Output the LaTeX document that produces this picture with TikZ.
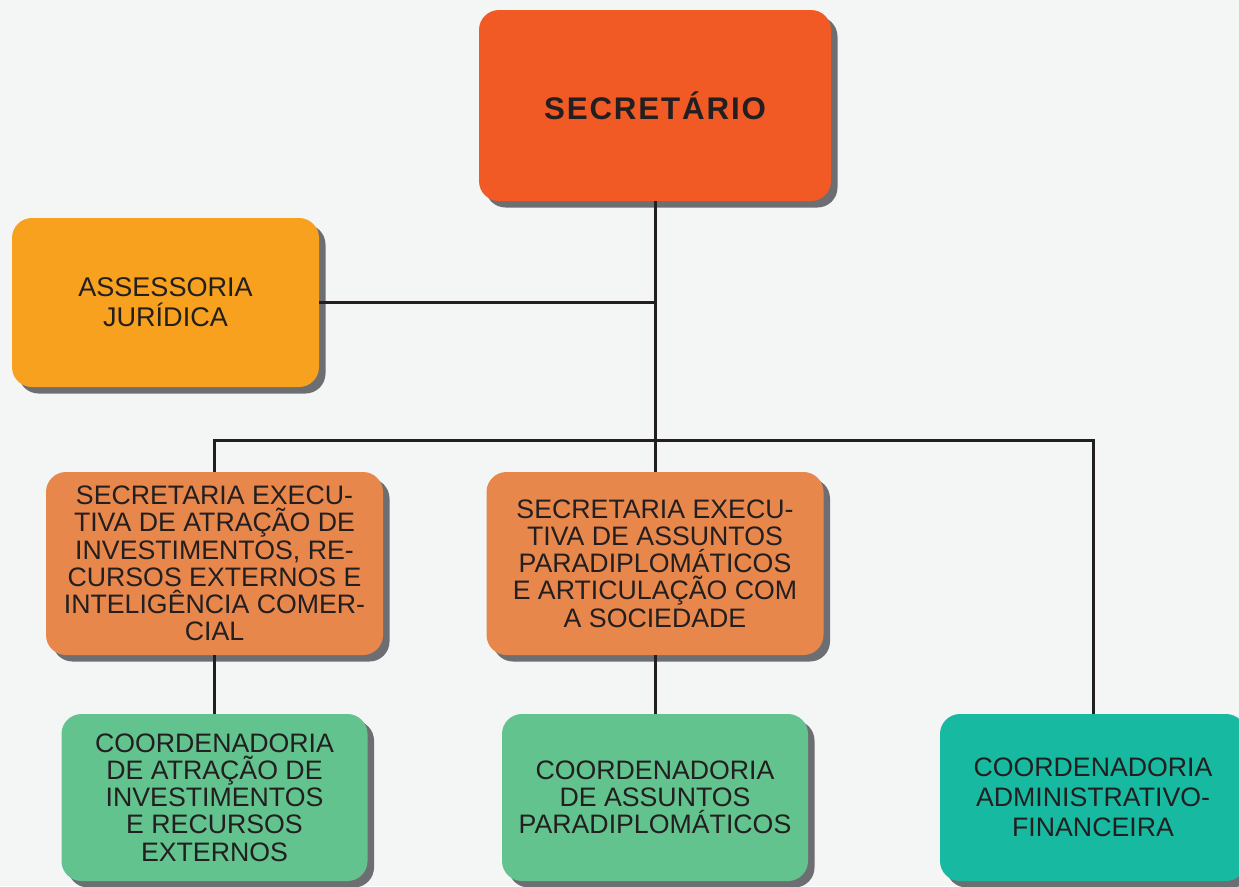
\documentclass[tikz,border=0pt]{standalone}
\usepackage{fontspec}
\setmainfont{Liberation Sans}
\usetikzlibrary{shadows}

\definecolor{bgcol}{HTML}{F4F6F6}
\definecolor{secorange}{HTML}{F15A24}
\definecolor{assyellow}{HTML}{F7A11E}
\definecolor{exorange}{HTML}{E8874C}
\definecolor{coogreen}{HTML}{63C38E}
\definecolor{cooteal}{HTML}{17BAA1}
\definecolor{shadowgray}{HTML}{6D6E71}
\definecolor{inkcol}{HTML}{231F20}

\begin{document}
\begin{tikzpicture}
            [color=inkcol, line width=1.7pt, line cap=rect,
             box/.style={shape=rectangle, rounded corners=0.4cm, align=center, inner sep=0pt,
                         font=\fontsize{15.2}{15.5}\selectfont,
                         general shadow={fill=shadowgray, shadow xshift=0.13cm, shadow yshift=-0.13cm}}]
            \path[use as bounding box, fill=bgcol] (0, 0) rectangle (24.78, -17.72);

            \node[box, fill=secorange, minimum width=7.04cm, minimum height=3.82cm,
                  font=\fontsize{17.8}{20}\selectfont\bfseries\addfontfeature{LetterSpace=6}] (sec) at (13.1, -2.11) {SECRETÁRIO};
            \node[box, fill=assyellow, minimum width=6.14cm, minimum height=3.38cm,
                  font=\fontsize{15.4}{17}\selectfont] (assjur) at (3.31, -6.05) {ASSESSORIA\\JURÍDICA};

            \node[box, fill=exorange, minimum width=6.74cm, minimum height=3.66cm] (seinv) at (4.29, -11.27)
                {SECRETARIA EXECU-\\TIVA DE ATRAÇÃO DE\\INVESTIMENTOS, RE-\\CURSOS EXTERNOS E\\INTELIGÊNCIA COMER-\\CIAL};
            \node[box, fill=exorange, minimum width=6.74cm, minimum height=3.66cm] (separ) at (13.1, -11.27)
                {SECRETARIA EXECU-\\TIVA DE ASSUNTOS\\PARADIPLOMÁTICOS\\E ARTICULAÇÃO COM\\A SOCIEDADE};

            \node[box, fill=coogreen, minimum width=6.12cm, minimum height=3.34cm] (cooinv) at (4.29, -15.95)
                {COORDENADORIA\\DE ATRAÇÃO DE\\INVESTIMENTOS\\E RECURSOS\\EXTERNOS};
            \node[box, fill=coogreen, minimum width=6.12cm, minimum height=3.34cm] (coopar) at (13.1, -15.95)
                {COORDENADORIA\\DE ASSUNTOS\\PARADIPLOMÁTICOS};
            \node[box, fill=cooteal, minimum width=6.12cm, minimum height=3.34cm,
                  font=\fontsize{15.2}{17}\selectfont] (cooadm) at (21.86, -15.95)
                {COORDENADORIA\\ADMINISTRATIVO-\\FINANCEIRA};

            \coordinate (busL) at (4.29, -8.8);
            \coordinate (busM) at (13.1, -8.8);
            \coordinate (busR) at (21.86, -8.8);

            \path (sec) edge (busM);
            \path (assjur) edge (assjur -| busM);
            \path (busL) edge (busR);
            \path (busL) edge (seinv);
            \path (busM) edge (separ);
            \path (busR) edge (cooadm);
            \path (seinv) edge (cooinv);
            \path (separ) edge (coopar);
        \end{tikzpicture}
\end{document}
